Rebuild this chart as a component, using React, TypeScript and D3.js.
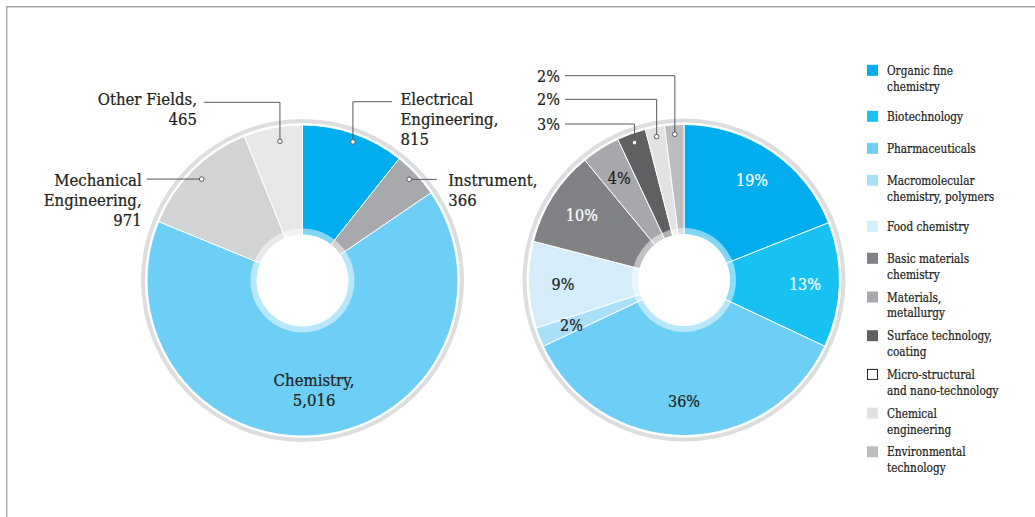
import React from "react";
import * as d3 from "d3";

// ---------- DATA ----------
const leftCategories = ["Electrical Engineering", "Instrument", "Chemistry", "Mechanical Engineering", "Other Fields"];
const leftValues = [815, 366, 5016, 971, 465];
const leftLabelLines = [["Electrical", "Engineering,"], ["Instrument,"], ["Chemistry,"], ["Mechanical", "Engineering,"], ["Other Fields,"]];

const rightCategories = [
  "Organic fine chemistry", "Biotechnology", "Pharmaceuticals", "Macromolecular chemistry, polymers",
  "Food chemistry", "Basic materials chemistry", "Materials, metallurgy", "Surface technology, coating",
  "Micro-structural and nano-technology", "Chemical engineering", "Environmental technology",
];
const rightValues = [19, 13, 36, 2, 9, 10, 4, 3, 0, 2, 2];
const legendLines = [
  ["Organic fine", "chemistry"], ["Biotechnology"], ["Pharmaceuticals"], ["Macromolecular", "chemistry, polymers"],
  ["Food chemistry"], ["Basic materials", "chemistry"], ["Materials,", "metallurgy"], ["Surface technology,", "coating"],
  ["Micro-structural", "and nano-technology"], ["Chemical", "engineering"], ["Environmental", "technology"],
];

// ---------- STYLE ----------
const leftColors = ["#00adee", "#a7a9ac", "#6dcff6", "#d1d3d4", "#e6e7e8"];
const rightColors = ["#00adee", "#17c1f2", "#6dcff6", "#a9e0f9", "#d5edfa", "#808285", "#a6a8ab", "#5f6062", "#ffffff", "#e1e2e3", "#bbbdbf"];
const TEXT = "#231f20";
const LINE = "#58595b";
const FONT = "'DejaVu Serif', serif";

const R = 155.5;
const RING_IN = 157.5;
const RING_OUT = 161.5;
const HOLE = 46;
const HOLE_RING = 52;

// label font (condensed look via horizontal scaling)
const LBL_SIZE = 16.6;
const LBL_SX = 0.9;
const PCT_SIZE = 16.4;
const PCT_SX = 0.88;
const LEG_SIZE = 13;
const LEG_SX = 0.81;

const fmt = d3.format(",");

function Donut({ cx, cy, values, colors }: { cx: number; cy: number; values: number[]; colors: string[] }) {
  const pie = d3.pie<number>().sort(null).value((d) => d)(values);
  const arc = d3.arc<d3.PieArcDatum<number>>().innerRadius(0).outerRadius(R);
  const ring = d3.arc<any>().innerRadius(RING_IN).outerRadius(RING_OUT).startAngle(0).endAngle(2 * Math.PI);
  return (
    <g transform={`translate(${cx},${cy})`}>
      <path d={ring({}) as string} fill="#dcddde" />
      {pie.map((p, i) =>
        p.endAngle - p.startAngle > 0 ? (
          <path key={i} d={arc(p) as string} fill={colors[i]} stroke="#ffffff" strokeWidth={1} />
        ) : null
      )}
      <circle r={HOLE_RING} fill="#ffffff" fillOpacity={0.5} />
      <circle r={HOLE} fill="#ffffff" />
    </g>
  );
}

function polar(cx: number, cy: number, r: number, a: number) {
  return [cx + r * Math.sin(a), cy - r * Math.cos(a)];
}

function Dot({ x, y }: { x: number; y: number }) {
  return <circle cx={x} cy={y} r={2.3} fill="#ffffff" stroke={LINE} strokeWidth={1} />;
}

function Label({
  x, y, lines, size, sx, anchor = "start", fill = TEXT, lh = 20,
}: { x: number; y: number; lines: string[]; size: number; sx: number; anchor?: string; fill?: string; lh?: number }) {
  return (
    <text
      transform={`translate(${x},${y}) scale(${sx},1)`}
      fontSize={size}
      fill={fill}
      stroke={fill}
      strokeWidth={0.25}
      textAnchor={anchor as any}
    >
      {lines.map((s, k) => (
        <tspan key={k} x={0} dy={k ? lh : 0}>{s}</tspan>
      ))}
    </text>
  );
}

// dot placement within each slice (fraction through slice, radius)
const leftDot = [
  { f: 0.52, r: 147.5 },
  { f: 0.47, r: 147 },
  { f: 0.5, r: 110 },
  { f: 0.5, r: 143 },
  { f: 0.58, r: 141 },
];

export default function App() {
  const LCX = 302.5, LCY = 280.5;
  const RCX = 684, RCY = 280;
  const leftPie = d3.pie<number>().sort(null).value((d) => d)(leftValues);
  const rightPie = d3.pie<number>().sort(null).value((d) => d)(rightValues);
  const mid = (p: d3.PieArcDatum<number>) => (p.startAngle + p.endAngle) / 2;
  const at = (p: d3.PieArcDatum<number>, f: number) => p.startAngle + f * (p.endAngle - p.startAngle);

  const L = leftPie.map((p, i) => polar(LCX, LCY, leftDot[i].r, at(p, leftDot[i].f)));
  const elems: React.ReactNode[] = [];

  // Electrical (0): up then right
  {
    const [x, y] = L[0];
    const ly = 101.7;
    elems.push(<path key="l0" d={`M${x},${y}V${ly}H${x + 39}`} fill="none" stroke={LINE} />);
    elems.push(<Dot key="d0" x={x} y={y} />);
    elems.push(<Label key="t0" x={x + 47.5} y={ly + 3.5} lines={[...leftLabelLines[0], fmt(leftValues[0])]} size={LBL_SIZE} sx={LBL_SX} />);
  }
  // Instrument (1): right
  {
    const [x, y] = L[1];
    elems.push(<path key="l1" d={`M${x},${y}H${x + 27.5}`} fill="none" stroke={LINE} />);
    elems.push(<Dot key="d1" x={x} y={y} />);
    elems.push(<Label key="t1" x={x + 39} y={y + 6.7} lines={[...leftLabelLines[1], fmt(leftValues[1])]} size={LBL_SIZE} sx={LBL_SX} lh={19.5} />);
  }
  // Chemistry (2): inside
  {
    const [x, y] = L[2];
    elems.push(<Label key="t2" x={x} y={y - 4} lines={[...leftLabelLines[2], fmt(leftValues[2])]} size={LBL_SIZE} sx={LBL_SX} anchor="middle" />);
  }
  // Mechanical (3): left
  {
    const [x, y] = L[3];
    elems.push(<path key="l3" d={`M${x},${y}H${x - 55}`} fill="none" stroke={LINE} />);
    elems.push(<Dot key="d3" x={x} y={y} />);
    elems.push(<Label key="t3" x={x - 60} y={y + 6.7} lines={[...leftLabelLines[3], fmt(leftValues[3])]} size={LBL_SIZE} sx={LBL_SX} anchor="end" />);
  }
  // Other (4): up then left
  {
    const [x, y] = L[4];
    const ly = 102.3;
    elems.push(<path key="l4" d={`M${x},${y}V${ly}H${x - 76}`} fill="none" stroke={LINE} />);
    elems.push(<Dot key="d4" x={x} y={y} />);
    elems.push(<Label key="t4" x={x - 83} y={ly + 3} lines={[...leftLabelLines[4], fmt(leftValues[4])]} size={LBL_SIZE} sx={LBL_SX} anchor="end" />);
  }

  // right pie labels
  const whiteLabels = new Set([0, 1, 5]);
  const outside = [7, 9, 10];
  const outsideLineY: Record<number, number> = { 10: 75.7, 9: 99.3, 7: 124 };
  rightPie.forEach((p, i) => {
    if (p.value <= 0) return;
    if (outside.includes(i)) {
      const [x, y] = polar(RCX, RCY, 146, mid(p));
      const ly = outsideLineY[i];
      elems.push(<path key={`rl${i}`} d={`M${x},${y}V${ly}H565`} fill="none" stroke={LINE} />);
      elems.push(<Dot key={`rd${i}`} x={x} y={y} />);
      elems.push(<Label key={`rt${i}`} x={560} y={ly + 6} lines={[`${p.value}%`]} size={PCT_SIZE} sx={PCT_SX} anchor="end" />);
    } else {
      const [x, y] = polar(RCX, RCY, 121, mid(p));
      elems.push(
        <Label key={`rt${i}`} x={x} y={y + 6} lines={[`${p.value}%`]} size={PCT_SIZE} sx={PCT_SX} anchor="middle"
          fill={whiteLabels.has(i) ? "#ffffff" : TEXT} />
      );
    }
  });

  // legend
  let ly = 74.8;
  const legend = rightCategories.map((c, i) => {
    const lines = legendLines[i];
    const y0 = ly;
    ly += lines.length === 1 ? 32 : i < 5 ? 46 : 38.7;
    const isWhite = rightColors[i] === "#ffffff";
    return (
      <g key={c}>
        <rect
          x={isWhite ? 867.5 : 867}
          y={isWhite ? y0 - 9.5 : y0 - 10}
          width={isWhite ? 10 : 11}
          height={isWhite ? 10 : 11}
          fill={rightColors[i]}
          stroke={isWhite ? TEXT : "none"}
          strokeWidth={1}
        />
        <Label x={887} y={y0} lines={lines} size={LEG_SIZE} sx={LEG_SX} lh={16} />
      </g>
    );
  });

  return (
    <svg
      width={1035}
      height={517}
      style={{ position: "absolute", left: 0, top: 0, display: "block", background: "#ffffff" }}
      fontFamily={FONT}
    >
      <rect x={0} y={0} width={1035} height={517} fill="#ffffff" />
      <path d="M6.7,517V6.7H1035" fill="none" stroke="#a6a6a6" strokeWidth={1.4} />
      <Donut cx={LCX} cy={LCY} values={leftValues} colors={leftColors} />
      <Donut cx={RCX} cy={RCY} values={rightValues} colors={rightColors} />
      {elems}
      {legend}
    </svg>
  );
}
